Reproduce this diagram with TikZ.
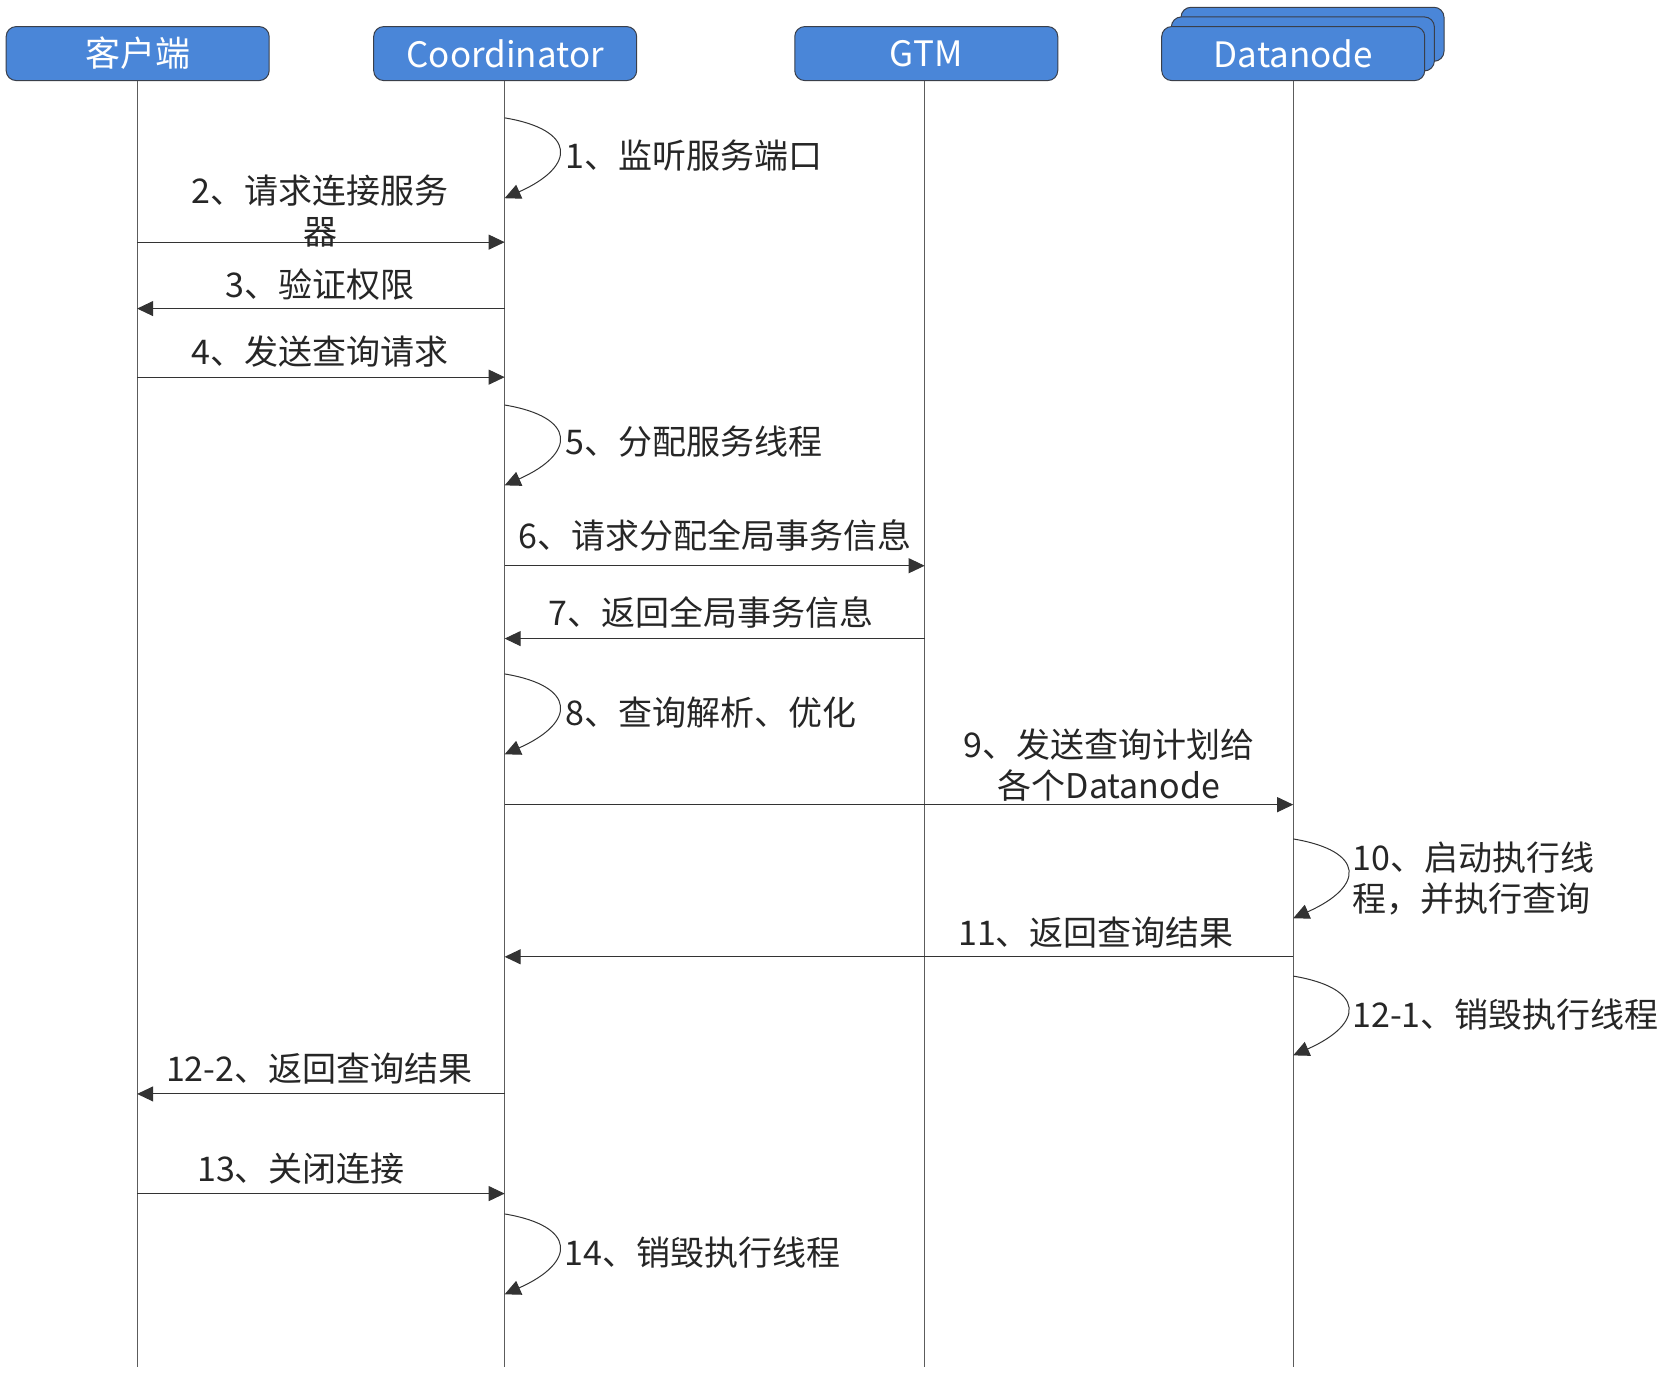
\documentclass[tikz,border=0pt]{standalone}
\usepackage{fontspec}
\setmainfont{Noto Sans CJK SC}
\usetikzlibrary{arrows.meta}
\definecolor{hdrblue}{HTML}{4A86D8}
\definecolor{hdrline}{HTML}{3A3F4A}
\definecolor{lnc}{HTML}{333333}
\begin{document}
\begin{tikzpicture}[x=1.0714pt,y=-1.0714pt,
  hdr/.style={draw=hdrline,line width=1pt,fill=hdrblue,rounded corners=10pt,minimum width=263pt,minimum height=54pt,inner sep=0pt,text=white,font=\fontsize{35}{40}\selectfont},
  life/.style={draw=lnc!80,line width=1pt},
  msg/.style={draw=lnc,line width=1pt,-{Triangle[length=16pt,width=15pt]}},
  lbl/.style={font=\fontsize{34}{41}\selectfont,text=black!85,inner sep=0pt,align=center},
  lbll/.style={lbl,anchor=west,align=left}]
\useasboundingbox (0,0) rectangle (1568,1297.4);
% headers
\node[hdr] (cl) at (128.5,50) {客户端};
\node[hdr] (co) at (471.5,50) {Coordinator};
\node[hdr] (gt) at (864.5,50) {GTM};
\node[hdr] (dn3) at (1225,32) {};
\node[hdr] (dn2) at (1216,41) {};
\node[hdr] (dn) at (1207,50) {Datanode};
% lifelines
\coordinate (clb) at (128,1276);
\coordinate (cob) at (471,1276);
\coordinate (gtb) at (863,1276);
\coordinate (dnb) at (1207,1276);
\draw[life] (cl.south -| clb) -- (clb);
\draw[life] (co.south -| cob) -- (cob);
\draw[life] (gt.south -| gtb) -- (gtb);
\draw[life] (dn.south -| dnb) -- (dnb);
% message end points
\foreach \n/\x/\y in {a1/471/110,b1/471/185,
  a2/128/226,b2/471/226,
  a3/471/288,b3/128/288,
  a4/128/352,b4/471/352,
  a5/471/378,b5/471/453,
  a6/471/528,b6/863/528,
  a7/863/596,b7/471/596,
  a8/471/629,b8/471/704,
  a9/471/751,b9/1207/751,
  a10/1207/783,b10/1207/857,
  a11/1207/893,b11/471/893,
  a12/1207/911,b12/1207/985,
  a13/471/1021,b13/128/1021,
  a14/128/1114,b14/471/1114,
  a15/471/1133,b15/471/1208}
  {\coordinate (\n) at (\x,\y);}
% self loops
\foreach \s in {1,5,8,10,12,15}
  {\draw[msg] (a\s) .. controls ([xshift=72pt,yshift=-12pt]a\s) and ([xshift=72pt,yshift=32pt]b\s) .. (b\s);}
% straight messages
\foreach \s in {2,3,4,6,7,9,11,13,14}
  {\draw[msg] (a\s) -- (b\s);}
% labels
\node[lbll] (t1) at (528,145) {1、监听服务端口};
\node[lbl] (t2) at (299,197) {2、请求连接服务\\器};
\node[lbl] (t3) at (299,266) {3、验证权限};
\node[lbl] (t4) at (299,328) {4、发送查询请求};
\node[lbll] (t5) at (528,412) {5、分配服务线程};
\node[lbl] (t6) at (667,500) {6、请求分配全局事务信息};
\node[lbl] (t7) at (664,572) {7、返回全局事务信息};
\node[lbll] (t8) at (528,665) {8、查询解析、优化};
\node[lbl] (t9) at (1035,714) {9、发送查询计划给\\各个Datanode};
\node[lbll] (t10) at (1262,820) {10、启动执行线\\程，并执行查询};
\node[lbl] (t11) at (1023,870) {11、返回查询结果};
\node[lbll] (t12) at (1262,947) {12-1、销毁执行线程};
\node[lbl] (t13) at (298,997) {12-2、返回查询结果};
\node[lbl] (t14) at (281,1091) {13、关闭连接};
\node[lbll] (t15) at (527,1169) {14、销毁执行线程};
\end{tikzpicture}
\end{document}
